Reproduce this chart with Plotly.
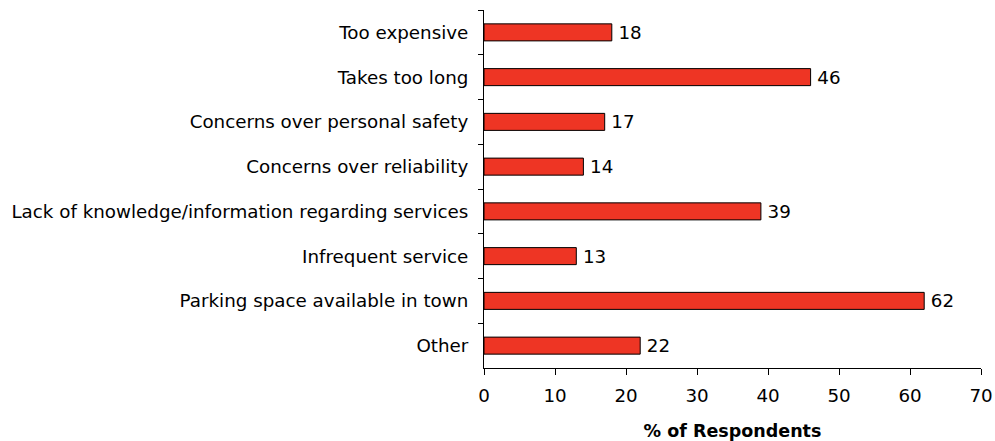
import plotly.graph_objects as go

categories = [
    "Too expensive",
    "Takes too long",
    "Concerns over personal safety",
    "Concerns over reliability",
    "Lack of knowledge/information regarding services",
    "Infrequent service",
    "Parking space available in town",
    "Other",
]
values = [18, 46, 17, 14, 39, 13, 62, 22]
x_ticks = [0, 10, 20, 30, 40, 50, 60, 70]

font = "DejaVu Sans, Verdana, sans-serif"
fs = 18.3

fig = go.Figure(
    go.Bar(
        x=values,
        y=categories,
        orientation="h",
        marker=dict(color="#EE3524", line=dict(color="black", width=1)),
        text=values,
        texttemplate="\u2009%{text}",
        textposition="outside",
        constraintext="none",
        textfont=dict(family=font, size=fs, color="black"),
        cliponaxis=False,
    )
)

fig.update_layout(
    width=995,
    height=441,
    margin=dict(l=484, r=14, t=10, b=73, autoexpand=False),
    plot_bgcolor="white",
    paper_bgcolor="white",
    bargap=0.62,
    showlegend=False,
    font=dict(family=font, size=fs, color="black"),
)

fig.update_xaxes(
    range=[0, 70],
    tickvals=x_ticks,
    ticks="outside",
    ticklen=6,
    tickcolor="black",
    showline=True,
    linecolor="black",
    linewidth=1,
    showgrid=False,
    zeroline=False,
    automargin=False,
    ticklabelstandoff=5,
    tickfont=dict(family=font, size=fs, color="black"),
    title=dict(text="<b>% of Respondents</b>", font=dict(family=font, size=17.5, color="black"), standoff=20),
)

fig.update_yaxes(
    autorange="reversed",
    ticks="outside",
    tickson="boundaries",
    ticklen=5,
    tickcolor="black",
    showline=True,
    linecolor="black",
    linewidth=1,
    showgrid=False,
    automargin=False,
    tickfont=dict(family=font, size=fs, color="black"),
    ticklabelstandoff=11,
)

fig.write_html(
    "out.html",
    config={"displayModeBar": False},
    post_script="document.body.style.margin='0';document.body.style.overflow='hidden';",
)
